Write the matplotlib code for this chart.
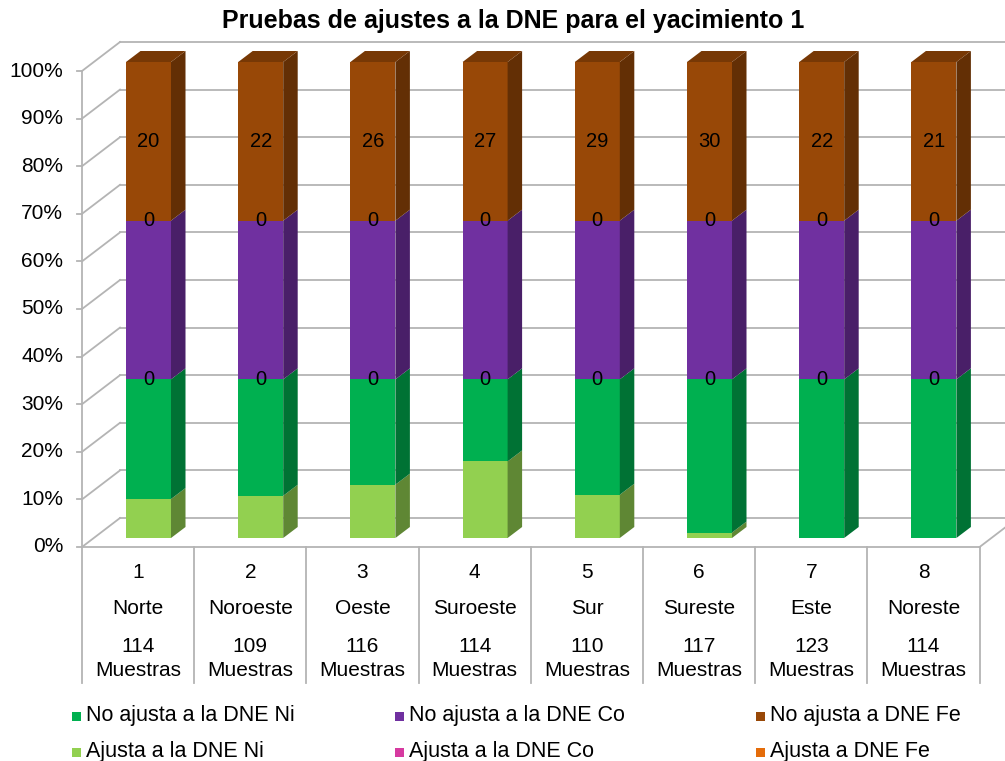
import matplotlib.pyplot as plt
import matplotlib.patches as patches
import numpy as np

# Datos por dirección del yacimiento
numeros = ['1', '2', '3', '4', '5', '6', '7', '8']
regiones = ['Norte', 'Noroeste', 'Oeste', 'Suroeste', 'Sur', 'Sureste', 'Este', 'Noreste']
muestras = np.array([114, 109, 116, 114, 110, 117, 123, 114])
ajusta_ni = np.array([28, 29, 39, 55, 30, 4, 0, 0])
ajusta_co = np.array([0, 0, 0, 0, 0, 0, 0, 0])
ajusta_fe = np.array([0, 0, 0, 0, 0, 0, 0, 0])
etiquetas_fe = [20, 22, 26, 27, 29, 30, 22, 21]

no_ajusta_ni = muestras - ajusta_ni
no_ajusta_co = muestras - ajusta_co
no_ajusta_fe = muestras - ajusta_fe

total = ajusta_ni + no_ajusta_ni + ajusta_co + no_ajusta_co + ajusta_fe + no_ajusta_fe

series = [
    ('Ajusta a la DNE Ni', ajusta_ni, '#92D050'),
    ('No ajusta a la DNE Ni', no_ajusta_ni, '#00B050'),
    ('Ajusta a la DNE Co', ajusta_co, '#D63AA0'),
    ('No ajusta a la DNE Co', no_ajusta_co, '#7030A0'),
    ('Ajusta a DNE Fe', ajusta_fe, '#E46C0A'),
    ('No ajusta a DNE Fe', no_ajusta_fe, '#984807'),
]

plt.rcParams['font.family'] = ['Liberation Sans', 'DejaVu Sans']

def sombra(color, f):
    r, g, b = [int(color[i:i + 2], 16) / 255 for i in (1, 3, 5)]
    return (r * f, g * f, b * f)

# escala de pixeles por unidad (para el efecto 3D)
PX = 112.2
PY = 4.76
ancho = 45 / PX
prof_dx, prof_dy = 14.5 / PX, 11 / PY
frente_dx, frente_dy = -10.4 / PX, -9 / PY
fondo_dx, fondo_dy = 27.6 / PX, 20 / PY
gris = '#B4B4B4'

fig = plt.figure(figsize=(10.05, 7.61), dpi=100)
ax = fig.add_axes([0, 0, 1, 1])
ax.set_xlim(-148.5 / PX, (1005 - 148.5) / PX)
ax.set_ylim((538 - 761) / PY, 538 / PY)
ax.axis('off')

x = np.arange(len(regiones))
izq = -0.5
der = len(regiones) - 0.5

# paredes: lineas de cuadricula
for t in range(0, 101, 10):
    ax.plot([izq + frente_dx, izq + fondo_dx], [t + frente_dy, t + fondo_dy], color=gris, lw=1.3, zorder=1)
    ax.plot([izq + fondo_dx, der + fondo_dx + 1], [t + fondo_dy, t + fondo_dy], color=gris, lw=1.3, zorder=1)
    ax.plot([izq + frente_dx - 5 / PX, izq + frente_dx], [t + frente_dy, t + frente_dy], color=gris, lw=1.3, zorder=1)
    ax.text(izq + frente_dx - 19 / PX, t + frente_dy, f'{t}%', ha='right', va='center', fontsize=15)

# piso y eje de categorias
fondo_cat = -136 / PY
ax.plot([izq + frente_dx, der + frente_dx], [frente_dy, frente_dy], color=gris, lw=1.3, zorder=1)
ax.plot([der + frente_dx, der + fondo_dx], [frente_dy, fondo_dy], color=gris, lw=1.3, zorder=1)
ax.plot([izq + frente_dx, izq + frente_dx], [100 + frente_dy, frente_dy], color=gris, lw=1.3, zorder=1)
for i in range(len(regiones) + 1):
    ax.plot([izq + i + frente_dx] * 2, [frente_dy, frente_dy + fondo_cat], color=gris, lw=1.3, zorder=1)

for i in x:
    cx = i + frente_dx
    ax.text(cx, frente_dy - 25 / PY, numeros[i], ha='center', va='center', fontsize=15)
    ax.text(cx, frente_dy - 62 / PY, regiones[i], ha='center', va='center', fontsize=15)
    ax.text(cx, frente_dy - 99 / PY, str(muestras[i]), ha='center', va='center', fontsize=15)
    ax.text(cx, frente_dy - 124 / PY, 'Muestras', ha='center', va='center', fontsize=15)

# barras apiladas al 100%
base = np.zeros(len(regiones))
for nombre, valores, color in series:
    pct = 100 * valores / total
    ax.bar(x, pct, bottom=base, width=ancho, color=color, lw=0, zorder=3)
    for i in x:
        if pct[i] <= 0:
            continue
        x1 = i + ancho / 2
        y0, y1 = base[i], base[i] + pct[i]
        lado = patches.Polygon([(x1, y0), (x1 + prof_dx, y0 + prof_dy),
                                (x1 + prof_dx, y1 + prof_dy), (x1, y1)],
                               closed=True, facecolor=sombra(color, 0.65), lw=0, zorder=3)
        ax.add_patch(lado)
    base = base + pct

color_sup = series[-1][2]
for i in x:
    x0 = i - ancho / 2
    x1 = i + ancho / 2
    y = base[i]
    sup = patches.Polygon([(x0, y), (x1, y), (x1 + prof_dx, y + prof_dy), (x0 + prof_dx, y + prof_dy)],
                          closed=True, facecolor=sombra(color_sup, 0.78), lw=0, zorder=3)
    ax.add_patch(sup)

# etiquetas de datos
base_co = 100 * (ajusta_ni + no_ajusta_ni) / total
base_fe = 100 * (ajusta_ni + no_ajusta_ni + ajusta_co + no_ajusta_co) / total
alto_fe = 100 * no_ajusta_fe / total
for i in x:
    ax.text(i, base_co[i] + 100 * ajusta_co[i] / total[i] / 2, str(ajusta_co[i]), ha='center', va='center', fontsize=14.5, zorder=5)
    ax.text(i, base_fe[i] + 100 * ajusta_fe[i] / total[i] / 2, str(ajusta_fe[i]), ha='center', va='center', fontsize=14.5, zorder=5)
    y_fe = base_fe[i] + 100 * ajusta_fe[i] / total[i] + alto_fe[i] / 2
    ax.text(i, y_fe, str(etiquetas_fe[i]), ha='center', va='center', fontsize=14.5, zorder=5)

# titulo
fig.text(513 / 1005, 1 - 21 / 761, 'Pruebas de ajustes a la DNE para el yacimiento 1',
         ha='center', va='center', fontsize=18, fontweight='bold')

# leyenda
orden = [1, 3, 5, 0, 2, 4]
cols_x = [76, 399, 760]
filas_y = [716, 752]
for k, idx in enumerate(orden):
    nombre, _, color = series[idx]
    px = cols_x[k % 3]
    py = filas_y[k // 3]
    fig.patches.append(patches.Rectangle(((px - 4.5) / 1005, 1 - (py + 4.5) / 761), 9 / 1005, 9 / 761,
                                         transform=fig.transFigure, facecolor=color, lw=0))
    fig.text((px + 10) / 1005, 1 - py / 761, nombre, ha='left', va='center', fontsize=15.5)

fig.savefig('out.png', dpi=100)
